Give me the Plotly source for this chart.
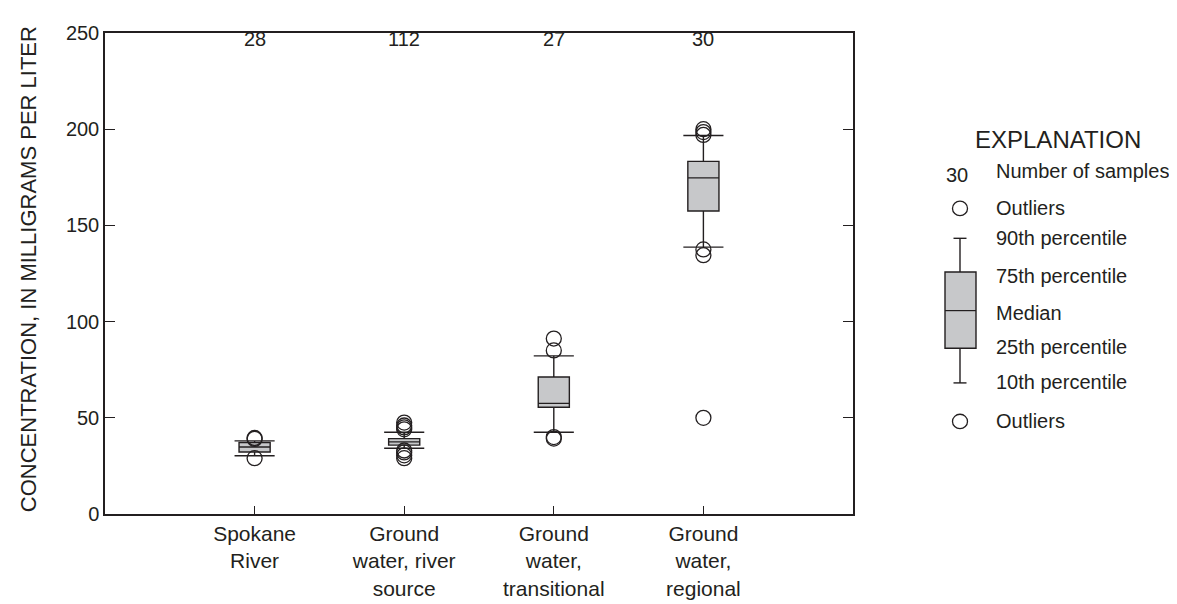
import plotly.graph_objects as go

# ---------------- data ----------------
categories = ["Spokane<br>River", "Ground<br>water, river<br>source",
              "Ground<br>water,<br>transitional", "Ground<br>water,<br>regional"]
positions = [1, 2, 3, 4]
sample_counts = ["28", "112", "27", "30"]

p10 = [30.3, 34.2, 42.5, 138.7]
q1 = [32.2, 35.8, 55.5, 157.5]
median = [34.8, 37.5, 57.5, 174.7]
q3 = [37.2, 39.2, 71.2, 183.3]
p90 = [38.0, 42.5, 82.2, 196.7]

outliers = [
    [39.0, 39.5, 29.0],
    [44.0, 45.0, 46.0, 47.5, 33.0, 32.0, 30.5, 29.0],
    [91.2, 85.0, 40.0, 39.2],
    [200.0, 198.5, 197.0, 137.5, 134.5, 50.0],
]

y_ticks = [0, 50, 100, 150, 200, 250]

# ---------------- styling ----------------
INK = "#231f20"
FILL = "#c7c8ca"
FONT = "Liberation Sans, Arial, sans-serif"
W, H = 1177, 604
L, R, T, B = 97, 845, 25, 524   # plot area in pixels

BOX_W = 0.208
CAP_W = 0.268


def px(xp):
    return (xp - L) / (R - L)


def py(yp):
    return (B - yp) / (B - T)


fig = go.Figure()

for i, xpos in enumerate(positions):
    fig.add_trace(go.Box(
        x=[xpos], q1=[q1[i]], median=[median[i]], q3=[q3[i]],
        lowerfence=[p10[i]], upperfence=[p90[i]],
        width=BOX_W, whiskerwidth=0, boxpoints=False,
        fillcolor=FILL, line=dict(color=INK, width=1.4),
        hoverinfo="skip", showlegend=False,
    ))
    # whisker caps (10th / 90th percentile)
    for v in (p10[i], p90[i]):
        fig.add_trace(go.Scatter(
            x=[xpos - CAP_W / 2, xpos + CAP_W / 2], y=[v, v], mode="lines",
            line=dict(color=INK, width=1.4), hoverinfo="skip", showlegend=False,
        ))
    fig.add_trace(go.Scatter(
        x=[xpos] * len(outliers[i]), y=outliers[i], mode="markers",
        marker=dict(symbol="circle-open", size=15, color=INK,
                    line=dict(color=INK, width=1.3)),
        hoverinfo="skip", showlegend=False,
    ))

annotations = []
for xpos, n in zip(positions, sample_counts):
    annotations.append(dict(x=xpos, y=247, xref="x", yref="y", text=n,
                            xanchor="center", yanchor="middle",
                            showarrow=False, font=dict(size=20, color=INK, family=FONT)))

# y-axis title
annotations.append(dict(x=px(20), y=py(270), xref="paper", yref="paper",
                        xanchor="center", yanchor="middle",
                        text="CONCENTRATION, IN MILLIGRAMS PER LITER", textangle=-90,
                        showarrow=False, font=dict(size=22, color=INK, family=FONT)))

# ---------------- explanation (legend) ----------------
annotations.append(dict(x=px(1050), y=py(136), xref="paper", yref="paper",
                        xanchor="center", yanchor="middle",
                        text="EXPLANATION", showarrow=False,
                        font=dict(size=24, color=INK, family=FONT)))
annotations.append(dict(x=px(949), y=py(172), xref="paper", yref="paper",
                        xanchor="center", yanchor="middle",
                        text="30", showarrow=False,
                        font=dict(size=20, color=INK, family=FONT)))
legend_texts = [("Number of samples", 168), ("Outliers", 207), ("90th percentile", 238),
                ("75th percentile", 277), ("Median", 315), ("25th percentile", 351),
                ("10th percentile", 387), ("Outliers", 428)]
for txt, yy in legend_texts:
    annotations.append(dict(x=px(986), y=py(yy), xref="paper", yref="paper",
                            text=txt, showarrow=False, xanchor="left", yanchor="middle",
                            font=dict(size=20, color=INK, family=FONT)))

shapes = []
lx = 952
# circles
for cy in (207, 428):
    shapes.append(dict(type="circle", xref="paper", yref="paper",
                       x0=px(lx - 7.5), x1=px(lx + 7.5), y0=py(cy + 7.5), y1=py(cy - 7.5),
                       line=dict(color=INK, width=1.3)))
# whiskers
shapes.append(dict(type="line", xref="paper", yref="paper", x0=px(lx), x1=px(lx),
                   y0=py(238), y1=py(273), line=dict(color=INK, width=1.4)))
shapes.append(dict(type="line", xref="paper", yref="paper", x0=px(lx), x1=px(lx),
                   y0=py(352), y1=py(388), line=dict(color=INK, width=1.4)))
for cy in (238, 388):
    shapes.append(dict(type="line", xref="paper", yref="paper", x0=px(945.5), x1=px(958.5),
                       y0=py(cy), y1=py(cy), line=dict(color=INK, width=1.4)))
# box
shapes.append(dict(type="rect", xref="paper", yref="paper", x0=px(937), x1=px(968),
                   y0=py(352), y1=py(273), fillcolor=FILL, line=dict(color=INK, width=1.4)))
shapes.append(dict(type="line", xref="paper", yref="paper", x0=px(937), x1=px(968),
                   y0=py(313), y1=py(313), line=dict(color=INK, width=1.2)))

fig.update_layout(
    width=W, height=H,
    margin=dict(l=L, r=W - R, t=T, b=H - B, pad=0),
    plot_bgcolor="white", paper_bgcolor="white",
    font=dict(family=FONT, size=20, color=INK),
    showlegend=False,
    annotations=annotations,
    shapes=shapes,
    xaxis=dict(range=[0, 5], tickvals=positions, ticktext=categories,
               ticks="inside", ticklen=8, tickwidth=1.3, tickcolor=INK,
               showline=True, linecolor=INK, linewidth=1.5, mirror=True,
               showgrid=False, zeroline=False, tickfont=dict(size=21)),
    yaxis=dict(range=[0, 250], tickvals=y_ticks,
               ticks="inside", ticklen=10, tickwidth=1.3, tickcolor=INK,
               showline=True, linecolor=INK, linewidth=1.5, mirror="ticks",
               showgrid=False, zeroline=False, tickfont=dict(size=20)),
)

fig.write_html("out.html")
